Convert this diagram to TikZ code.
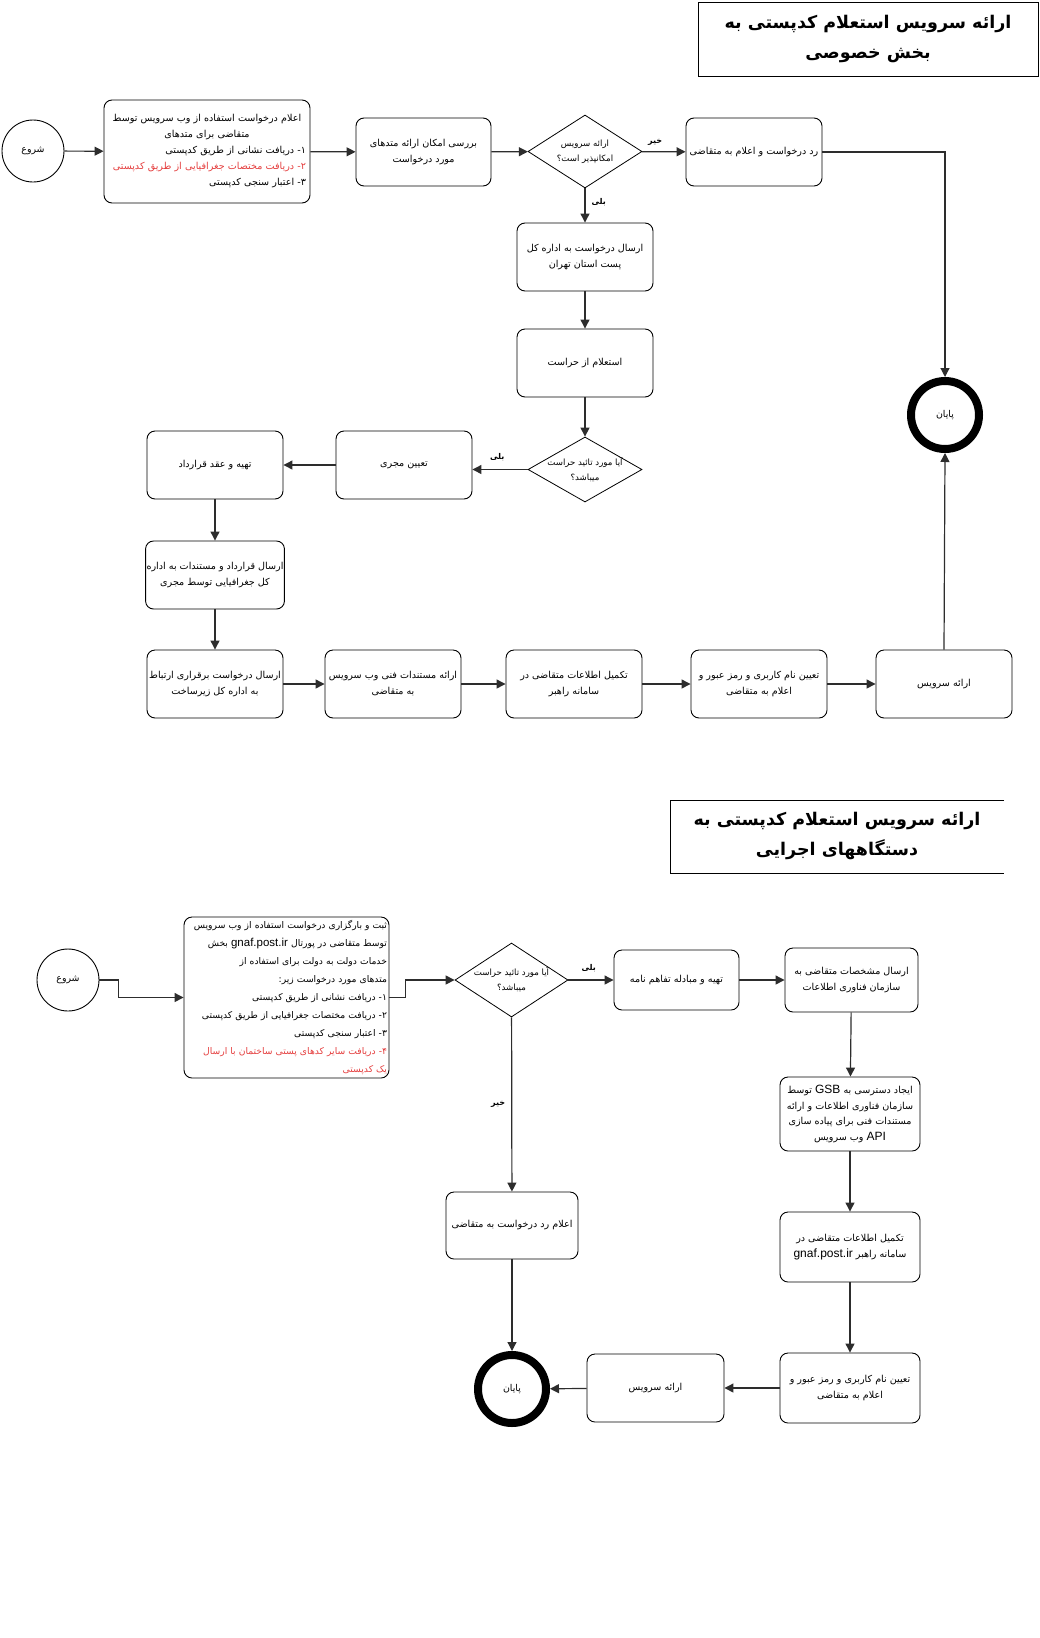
\documentclass[tikz,border=0pt]{standalone}
\usepackage{fontspec}
\usetikzlibrary{shapes.geometric,arrows.meta}
\TeXXeTstate=1
\newfontfamily\fafont[Script=Arabic]{DejaVu Sans}
\newfontfamily\lafont{Liberation Sans}
\newcommand\RL[1]{\mbox{\beginR #1\endR}}
\newcommand\LT[1]{{\lafont\beginL #1\endL}}
\definecolor{redtxt}{RGB}{228,62,62}
\definecolor{lncol}{RGB}{45,45,45}
\begin{document}
\begin{tikzpicture}[x=1pt,y=-1pt,
  box/.style={draw, rounded corners=8pt, line width=0.9pt, minimum width=136pt, minimum height=68pt,
    align=center, font=\fafont\fontsize{9.6}{16}\selectfont, inner sep=1pt},
  dia/.style={draw, diamond, line width=0.8pt, inner sep=0pt},
  diatext/.style={align=center, font=\fafont\fontsize{8.6}{15}\selectfont, inner sep=0pt},
  startc/.style={draw, circle, line width=0.9pt, minimum size=62pt, inner sep=0pt, font=\fafont\fontsize{9.4}{10}\selectfont},
  endc/.style={draw, circle, line width=8pt, minimum size=68pt, inner sep=0pt, font=\fafont\fontsize{9.4}{10}\selectfont},
  conn/.style={line width=1.2pt, draw=lncol, -{Triangle[length=9pt,width=9pt]}},
  lbl/.style={font=\fafont\bfseries\fontsize{8}{9}\selectfont, inner sep=0pt},
  ttl/.style={align=center, font=\fafont\bfseries\fontsize{17.5}{30}\selectfont, inner sep=0pt}]
\useasboundingbox (0,0) rectangle (1040,1638);

% ===== Top section =====
\node[draw, line width=1pt, minimum width=340pt, minimum height=74pt] (title1) at (868,39) {};
\node[ttl] (title1t) at (868,39) {\RL{ارائه سرویس استعلام کدپستی به}\\\RL{بخش خصوصی}};

\node[startc] (st1) at (33,151) {\RL{شروع}};
\node[box, minimum width=206pt, minimum height=103pt, align=right, text width=198pt] (A) at (207,151.5)
 {\makebox[198pt]{\RL{اعلام درخواست استفاده از وب سرویس توسط}}\\
  \makebox[198pt]{\RL{متقاضی برای متدهای}}\\
  \RL{۱- دریافت نشانی از طریق کدپستی}\\
  {\color{redtxt}\RL{۲- دریافت مختصات جغرافیایی از طریق کدپستی}}\\
  \RL{۳- اعتبار سنجی کدپستی}};
\node[box, minimum width=135pt] (B) at (423.5,152) {\RL{بررسی امکان ارائه متدهای}\\\RL{مورد درخواست}};
\node[dia, minimum width=114pt, minimum height=73pt] (d1) at (585,151.5) {};
\node[diatext] (d1t) at (d1.center) {\RL{ارائه سرویس}\\\RL{امکانپذیر است؟}};
\node[box] (R) at (754,152) {\RL{رد درخواست و اعلام به متقاضی}};
\node[endc] (end1) at (945,415) {\RL{پایان}};
\node[box] (C) at (585,257) {\RL{ارسال درخواست به اداره کل}\\\RL{پست استان تهران}};
\node[box] (Hr) at (585,363) {\RL{استعلام از حراست}};
\node[dia, minimum width=114pt, minimum height=65pt] (d2) at (585,469.5) {};
\node[diatext] (d2t) at (d2.center) {\RL{آیا مورد تائید حراست}\\\RL{میباشد؟}};
\node[box] (M) at (404,465) {\RL{تعیین مجری}};
\node[box] (Q) at (215,465) {\RL{تهیه و عقد قرارداد}};
\node[box] (S) at (215,575) {\RL{ارسال قرارداد و مستندات به اداره}\\\RL{کل جغرافیایی توسط مجری}};
\node[box] (T) at (215,684) {\RL{ارسال درخواست برقراری ارتباط}\\\RL{به اداره کل زیرساخت}};
\node[box] (U) at (393,684) {\RL{ارائه مستندات فنی وب سرویس}\\\RL{به متقاضی}};
\node[box] (V) at (574,684) {\RL{تکمیل اطلاعات متقاضی در}\\\RL{سامانه راهبر}};
\node[box] (W) at (759,684) {\RL{تعیین نام کاربری و رمز عبور و}\\\RL{اعلام به متقاضی}};
\node[box] (X) at (944,684) {\RL{ارائه سرویس}};

\draw[conn] (st1) -- (A);
\draw[conn] (A) -- (B);
\draw[conn] (B) -- (d1);
\draw[conn] (d1) -- node[lbl, above=6pt, pos=0.3] (l1) {\RL{خیر}} (R);
\draw[conn] (R.east) -| (end1.north);
\draw[conn] (d1) -- node[lbl, right=6pt, pos=0.4] (l2) {\RL{بلی}} (C);
\draw[conn] (C) -- (Hr);
\draw[conn] (Hr) -- (d2);
\draw[conn] (d2.west) -- node[lbl, above=8pt, pos=0.55] (l3) {\RL{بلی}} (d2.west -| M.east);
\draw[conn] (M) -- (Q);
\draw[conn] (Q) -- (S);
\draw[conn] (S) -- (T);
\draw[conn] (T) -- (U);
\draw[conn] (U) -- (V);
\draw[conn] (V) -- (W);
\draw[conn] (W) -- (X);
\draw[conn] (X.north) -- (end1.south);

% ===== Bottom section =====
\coordinate (t2a) at (1004,800);
\coordinate (t2b) at (670,800);
\coordinate (t2c) at (670,873);
\coordinate (t2d) at (1004,873);
\draw[line width=1pt] (t2a) -- (t2b) -- (t2c) -- (t2d);
\node[ttl] (title2t) at (837,836) {\RL{ارائه سرویس استعلام کدپستی به}\\\RL{دستگاههای اجرایی}};

\node[startc] (st2) at (68,980) {\RL{شروع}};
\node[box, minimum width=205pt, minimum height=161pt, align=right, text width=201pt, inner sep=0pt,
      font=\fafont\fontsize{9.2}{18}\selectfont] (E) at (286.5,997.5)
 {\RL{ثبت و بارگزاری درخواست استفاده از وب سرویس}\\
  \RL{توسط متقاضی در پورتال \LT{\fontsize{11.5}{18}\selectfont gnaf.post.ir} بخش}\\
  \RL{خدمات دولت به دولت برای استفاده از}\\
  \RL{متدهای مورد درخواست زیر:}\\
  \RL{۱- دریافت نشانی از طریق کدپستی}\\
  \RL{۲- دریافت مختصات جغرافیایی از طریق کدپستی}\\
  \RL{۳- اعتبار سنجی کدپستی}\\
  {\color{redtxt}\RL{۴- دریافت سایر کدهای پستی ساختمان با ارسال}}\\
  {\color{redtxt}\RL{یک کدپستی}}};
\node[dia, minimum width=113pt, minimum height=74pt] (d3) at (511.5,980) {};
\node[diatext] (d3t) at (d3.center) {\RL{آیا مورد تائید حراست}\\\RL{میباشد؟}};
\node[box, minimum width=125pt, minimum height=60pt] (F) at (676.5,980) {\RL{تهیه و مبادله تفاهم نامه}};
\node[box, minimum width=133pt, minimum height=64pt] (G) at (851.5,980) {\RL{ارسال مشخصات متقاضی به}\\\RL{سازمان فناوری اطلاعات}};
\node[box, minimum width=140pt, minimum height=74pt, font=\fafont\fontsize{9.6}{15.5}\selectfont] (H) at (850,1114)
 {\RL{ایجاد دسترسی به \LT{\fontsize{12}{15}\selectfont GSB} توسط}\\\RL{سازمان فناوری اطلاعات و ارائه}\\\RL{مستندات فنی برای پیاده سازی}\\\RL{\LT{\fontsize{12}{15}\selectfont API} وب سرویس}};
\node[box, minimum width=140pt, minimum height=70pt] (I) at (850,1247)
 {\RL{تکمیل اطلاعات متقاضی در}\\\RL{سامانه راهبر \LT{\fontsize{12}{16}\selectfont gnaf.post.ir}}};
\node[box, minimum width=140pt, minimum height=70pt] (J) at (850,1388) {\RL{تعیین نام کاربری و رمز عبور و}\\\RL{اعلام به متقاضی}};
\node[box, minimum width=137pt] (K) at (655.5,1388) {\RL{ارائه سرویس}};
\node[endc] (end2) at (512,1389) {\RL{پایان}};
\node[box, minimum width=132pt, minimum height=67pt] (L) at (512,1225.5) {\RL{اعلام رد درخواست به متقاضی}};

\draw[conn] (st2.east) -- ++(19,0) |- (E.west);
\draw[conn] (E.east) -- ++(16,0) |- (d3.west);
\draw[conn] (d3) -- node[lbl, above=8pt, pos=0.45] (l4) {\RL{بلی}} (F);
\draw[conn] (F) -- (G);
\draw[conn] (G) -- (H);
\draw[conn] (H) -- (I);
\draw[conn] (I) -- (J);
\draw[conn] (J) -- (K);
\draw[conn] (K) -- (end2);
\draw[conn] (d3) -- node[lbl, left=6pt, pos=0.5] (l5) {\RL{خیر}} (L);
\draw[conn] (L) -- (end2);
\end{tikzpicture}
\end{document}
